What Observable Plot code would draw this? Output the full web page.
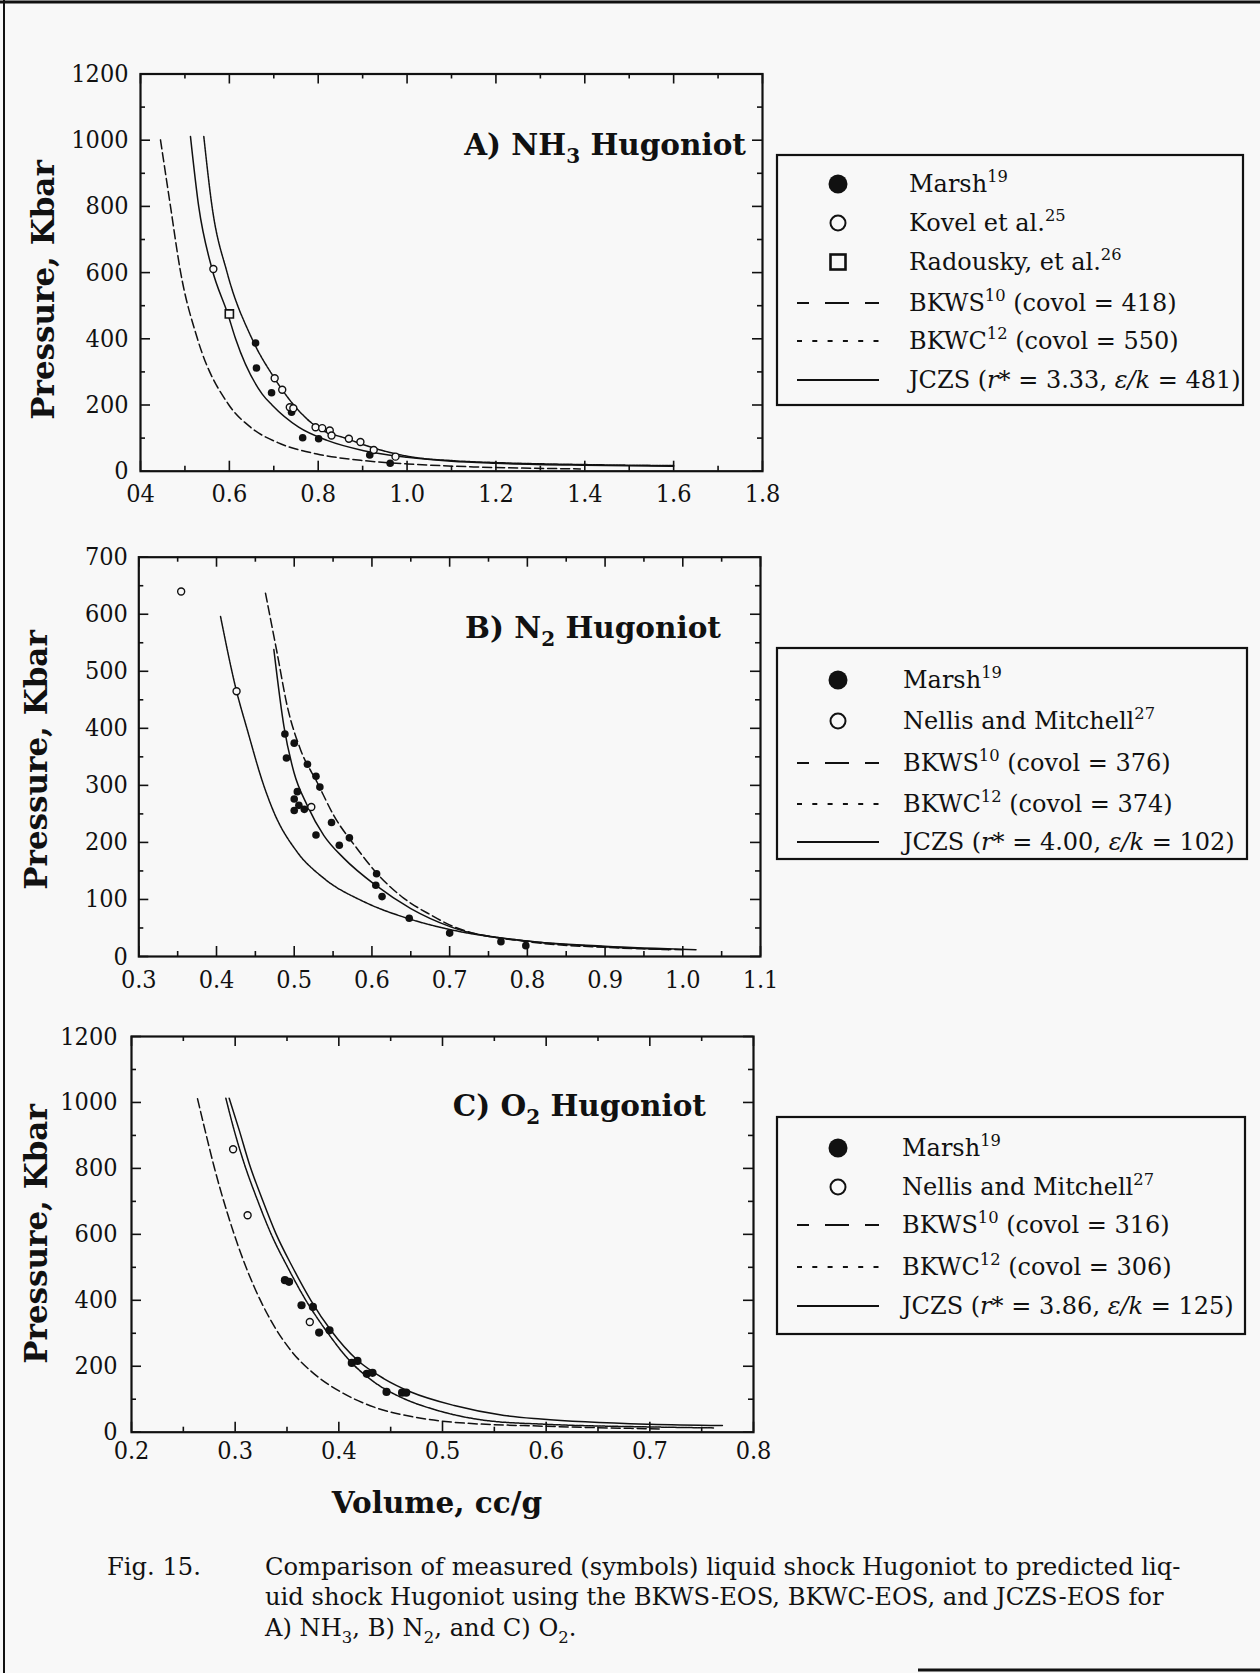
<!DOCTYPE html>
<html>
<head>
<meta charset="utf-8">
<script src="https://cdn.jsdelivr.net/npm/d3@7"></script>
<script src="https://cdn.jsdelivr.net/npm/@observablehq/plot@0.6"></script>
<style>
html, body { margin: 0; padding: 0; background: #f8f8f8; }
#page { position: relative; width: 1260px; height: 1673px; background: #f8f8f8; overflow: hidden; font-family: "DejaVu Serif", serif; color: #111; }
.panel { position: absolute; left: 0; }
#overlay { position: absolute; left: 0; top: 0; }
</style>
</head>
<body>
<div id="page"></div>
<script>
// ---------- Panel A: NH3 ----------
const nh3Marsh = [[0.659,387],[0.661,312],[0.695,237],[0.740,178],[0.765,101],[0.801,98],[0.916,49],[0.962,24]];
const nh3Kovel = [[0.564,611],[0.702,281],[0.719,246],[0.736,193],[0.744,190],[0.794,133],[0.809,130],[0.826,123],[0.830,108],[0.869,98],[0.895,88],[0.925,64],[0.974,44]];
const nh3Radousky = [[0.600,475]];
const nh3BKWS = [[0.445,1001],[0.4675,800],[0.490,603],[0.5275,403],[0.599,200],[0.6475,133],[0.715,83],[0.7975,52],[0.9025,32],[1.0,22],[1.15,13],[1.39,7]];
const nh3BKWC = [[0.5425,1011],[0.561,800],[0.595,600],[0.651,400],[0.700,284],[0.745,200],[0.7975,133],[0.865,98],[0.9325,67],[1.015,42],[1.1,32],[1.2,26],[1.4,20],[1.6,17]];
const nh3JCZS = [[0.5125,1011],[0.531,800],[0.561,611],[0.5965,475],[0.614,400],[0.674,233],[0.696,200],[0.756,133],[0.820,93],[0.9025,62],[1.0,42],[1.1,30],[1.2,24],[1.4,18],[1.6,15]];
const nh3XTicks = [0.4,0.6,0.8,1.0,1.2,1.4,1.6,1.8];
const nh3XLabels = ["04","0.6","0.8","1.0","1.2","1.4","1.6","1.8"];
const nh3XMinor = [0.5,0.7,0.9,1.1,1.3,1.5,1.7];
const nh3YTicks = [0,200,400,600,800,1000,1200];
const nh3YLabels = ["0","200","400","600","800","1000","1200"];
const nh3YMinor = [100,300,500,700,900,1100];
const nh3Legend = ["Marsh|19", "Kovel et al.|25", "Radousky, et al.|26", "BKWS|10| (covol = 418)", "BKWC|12| (covol = 550)", "JCZS  (|r*| = 3.33, |ε/k| = 481)"];

// ---------- Panel B: N2 ----------
const n2Marsh = [[0.488,390],[0.500,374],[0.490,348],[0.517,337],[0.528,316],[0.533,297],[0.504,289],[0.500,276],[0.506,265],[0.500,256],[0.513,258],[0.548,235],[0.528,213],[0.571,208],[0.558,195],[0.606,145],[0.605,125],[0.613,105],[0.648,67],[0.700,41],[0.766,26],[0.798,19]];
const n2Nellis = [[0.3545,640],[0.4258,465],[0.522,262]];
const n2BKWS = [[0.463,637],[0.478,532],[0.491,439],[0.508,363],[0.5296,305],[0.551,247],[0.581,189],[0.6069,145],[0.6412,102],[0.6755,73],[0.7056,52],[0.8,26],[0.9,16],[1.0,12]];
const n2BKWC = [[0.4052,596],[0.4258,465],[0.4395,398],[0.461,299],[0.4738,253],[0.5039,183],[0.5382,137],[0.5897,96],[0.6455,67],[0.7013,47],[0.8,27],[0.9,17],[0.982,12]];
const n2JCZS = [[0.4738,538],[0.4867,404],[0.4996,323],[0.5167,265],[0.5382,212],[0.564,172],[0.6047,125],[0.650,84],[0.7013,52],[0.8,27],[0.9,18],[1.017,12]];
const n2XTicks = [0.3,0.4,0.5,0.6,0.7,0.8,0.9,1.0,1.1];
const n2XLabels = ["0.3","0.4","0.5","0.6","0.7","0.8","0.9","1.0","1.1"];
const n2XMinor = [0.35,0.45,0.55,0.65,0.75,0.85,0.95,1.05];
const n2YTicks = [0,100,200,300,400,500,600,700];
const n2YLabels = ["0","100","200","300","400","500","600","700"];
const n2YMinor = [50,150,250,350,450,550,650];
const n2Legend = ["Marsh|19", "Nellis and Mitchell|27", "BKWS|10| (covol = 376)", "BKWC|12| (covol = 374)", "JCZS  (|r*| = 4.00, |ε/k| = 102)"];

// ---------- Panel C: O2 ----------
const o2Marsh = [[0.348,461],[0.352,456],[0.364,385],[0.375,380],[0.381,302],[0.391,309],[0.4125,210],[0.418,216],[0.427,177],[0.4325,180],[0.446,122],[0.461,120],[0.465,120]];
const o2Nellis = [[0.298,858],[0.312,658],[0.372,334]];
const o2BKWS = [[0.2637,1011],[0.2717,906],[0.2797,805],[0.2926,663],[0.3055,542],[0.3183,441],[0.3344,339],[0.3537,248],[0.3762,177],[0.4019,122],[0.4341,76],[0.4727,46],[0.5113,30],[0.6,18],[0.71,10]];
const o2BKWC = [[0.291,1013],[0.299,916],[0.3087,815],[0.3215,704],[0.3344,603],[0.3505,501],[0.3682,400],[0.3875,309],[0.4116,213],[0.4341,152],[0.4598,106],[0.4952,66],[0.5434,35],[0.6,24],[0.7,16],[0.762,13]];
const o2JCZS = [[0.2942,1013],[0.3039,916],[0.3135,815],[0.3264,704],[0.3392,603],[0.3553,501],[0.373,400],[0.3923,309],[0.418,218],[0.4437,162],[0.4695,122],[0.5113,81],[0.5595,51],[0.5949,40],[0.7,24],[0.77,20]];
const o2XTicks = [0.2,0.3,0.4,0.5,0.6,0.7,0.8];
const o2XLabels = ["0.2","0.3","0.4","0.5","0.6","0.7","0.8"];
const o2XMinor = [0.25,0.35,0.45,0.55,0.65,0.75];
const o2YTicks = [0,200,400,600,800,1000,1200];
const o2YLabels = ["0","200","400","600","800","1000","1200"];
const o2YMinor = [100,300,500,700,900,1100];
const o2Legend = ["Marsh|19", "Nellis and Mitchell|27", "BKWS|10| (covol = 316)", "BKWC|12| (covol = 306)", "JCZS  (|r*| = 3.86, |ε/k| = 125)"];

const captionLines = [
  "Comparison of measured (symbols) liquid shock Hugoniot to predicted liq-",
  "uid shock Hugoniot using the BKWS-EOS, BKWC-EOS, and JCZS-EOS for"
];

// ---------- drawing ----------
const INK = "#111";
const DASH_BKWS = "9,4";
const DASH_BKWC = "2.5,0.8";

function makePanel(cfg) {
  const ph = cfg.height - cfg.mt - cfg.mb;
  const pw = cfg.width - cfg.ml - cfg.mr;
  const xl = new Map(cfg.xTicks.map((d, i) => [d, cfg.xLabels[i]]));
  const yl = new Map(cfg.yTicks.map((d, i) => [d, cfg.yLabels[i]]));
  const tk = {stroke: INK, strokeWidth: 1.6};
  const marks = [
    Plot.ruleX(cfg.xTicks, {x: d => d, insetTop: ph - 10, ...tk}),
    Plot.ruleX(cfg.xTicks, {x: d => d, insetBottom: ph - 10, ...tk}),
    Plot.ruleX(cfg.xMinor, {x: d => d, insetTop: ph - 5, ...tk}),
    Plot.ruleX(cfg.xMinor, {x: d => d, insetBottom: ph - 5, ...tk}),
    Plot.ruleY(cfg.yTicks, {y: d => d, insetRight: pw - 10, ...tk}),
    Plot.ruleY(cfg.yTicks, {y: d => d, insetLeft: pw - 10, ...tk}),
    Plot.ruleY(cfg.yMinor, {y: d => d, insetRight: pw - 5, ...tk}),
    Plot.ruleY(cfg.yMinor, {y: d => d, insetLeft: pw - 5, ...tk}),
    Plot.frame({stroke: INK, strokeWidth: 2.2}),
    Plot.axisX({ticks: cfg.xTicks, anchor: "bottom", tickSize: 0, tickPadding: cfg.xPad, tickFormat: d => xl.get(d), label: null, fill: INK}),
    Plot.axisY({ticks: cfg.yTicks, anchor: "left", tickSize: 0, tickPadding: cfg.yPad, tickFormat: d => yl.get(d), label: null, fill: INK}),
  ];
  for (const c of cfg.curves) {
    marks.push(Plot.line(c.data, {x: d => d[0], y: d => d[1], curve: "monotone-x", stroke: INK, strokeWidth: 1.5, strokeDasharray: c.dash || null}));
  }
  for (const p of cfg.points) {
    if (p.kind === "filled") marks.push(Plot.dot(p.data, {x: d => d[0], y: d => d[1], r: p.r || 3.8, fill: INK, stroke: "none"}));
    if (p.kind === "open") marks.push(Plot.dot(p.data, {x: d => d[0], y: d => d[1], r: p.r || 3.5, fill: "#f8f8f8", stroke: INK, strokeWidth: 1.4}));
    if (p.kind === "square") marks.push(Plot.dot(p.data, {x: d => d[0], y: d => d[1], symbol: "square", r: 4.6, fill: "#f8f8f8", stroke: INK, strokeWidth: 1.6}));
  }
  const svg = Plot.plot({
    width: cfg.width, height: cfg.height,
    marginTop: cfg.mt, marginBottom: cfg.mb, marginLeft: cfg.ml, marginRight: cfg.mr,
    x: {domain: cfg.xDomain},
    y: {domain: cfg.yDomain},
    style: {background: "transparent", fontFamily: "'DejaVu Serif Condensed', 'DejaVu Serif', serif", fontStretch: "condensed", fontSize: "25px", color: INK, overflow: "visible"},
    marks
  });
  const holder = document.createElement("div");
  holder.className = "panel";
  holder.style.top = cfg.top + "px";
  holder.appendChild(svg);
  document.getElementById("page").appendChild(holder);
}

makePanel({
  top: 0, width: 800, height: 520, mt: 73.5, mb: 49.3, ml: 140, mr: 38,
  xDomain: [0.4, 1.8], yDomain: [0, 1200],
  xTicks: nh3XTicks, xLabels: nh3XLabels, xMinor: nh3XMinor,
  yTicks: nh3YTicks, yLabels: nh3YLabels, yMinor: nh3YMinor,
  xPad: 13, yPad: 12,
  curves: [{data: nh3BKWS, dash: DASH_BKWS}, {data: nh3BKWC, dash: DASH_BKWC}, {data: nh3JCZS}],
  points: [{kind: "filled", data: nh3Marsh}, {kind: "open", data: nh3Kovel}, {kind: "square", data: nh3Radousky}]
});
makePanel({
  top: 500, width: 800, height: 520, mt: 56.7, mb: 64, ml: 138.3, mr: 40,
  xDomain: [0.3, 1.1], yDomain: [0, 700],
  xTicks: n2XTicks, xLabels: n2XLabels, xMinor: n2XMinor,
  yTicks: n2YTicks, yLabels: n2YLabels, yMinor: n2YMinor,
  xPad: 14, yPad: 11,
  curves: [{data: n2BKWS, dash: DASH_BKWS}, {data: n2BKWC, dash: DASH_BKWC}, {data: n2JCZS}],
  points: [{kind: "filled", data: n2Marsh}, {kind: "open", data: n2Nellis}]
});
makePanel({
  top: 1000, width: 800, height: 500, mt: 36, mb: 68.3, ml: 131, mr: 47,
  xDomain: [0.2, 0.8], yDomain: [0, 1200],
  xTicks: o2XTicks, xLabels: o2XLabels, xMinor: o2XMinor,
  yTicks: o2YTicks, yLabels: o2YLabels, yMinor: o2YMinor,
  xPad: 9, yPad: 14,
  curves: [{data: o2BKWS, dash: DASH_BKWS}, {data: o2BKWC, dash: DASH_BKWC}, {data: o2JCZS}],
  points: [{kind: "filled", data: o2Marsh, r: 4.1}, {kind: "open", data: o2Nellis}]
});

// ---------- overlay: labels, titles, legends, caption ----------
const ov = d3.select("#page").append("svg").attr("id", "overlay")
  .attr("width", 1260).attr("height", 1673)
  .style("font-family", "'DejaVu Serif', serif").attr("fill", INK);

// page border
ov.append("line").attr("x1", 0).attr("x2", 1260).attr("y1", 2).attr("y2", 2).attr("stroke", INK).attr("stroke-width", 3);
ov.append("line").attr("x1", 4).attr("x2", 4).attr("y1", 0).attr("y2", 1673).attr("stroke", INK).attr("stroke-width", 2);
ov.append("line").attr("x1", 918).attr("x2", 1260).attr("y1", 1670).attr("y2", 1670).attr("stroke", INK).attr("stroke-width", 3);

// rich text helper: parts = [[text, kind]] kind: n | sub | sup | it
function rich(g, x, y, parts, o) {
  const t = g.append("text").attr("x", x).attr("y", y)
    .attr("font-size", o.size).attr("font-weight", o.weight || "normal")
    .attr("text-anchor", o.anchor || "start");
  let shift = 0;
  for (const [s, kind] of parts) {
    const target = kind === "sub" ? o.size * 0.28 : kind === "sup" ? -o.size * 0.42 : 0;
    const ts = t.append("tspan").attr("dy", target - shift).text(s);
    if (kind === "sub" || kind === "sup") ts.attr("font-size", o.size * 0.68);
    if (kind === "it") ts.attr("font-style", "italic");
    shift = target;
  }
  return t;
}

// y-axis labels
[[54, 290], [47, 760], [47, 1234]].forEach(([x, y]) => {
  ov.append("text").attr("transform", `translate(${x},${y}) rotate(-90)`)
    .attr("text-anchor", "middle").attr("font-size", 31).attr("font-weight", "bold")
    .text("Pressure, Kbar");
});

// panel titles
rich(ov, 746, 155, [["A) NH", "n"], ["3", "sub"], [" Hugoniot", "n"]], {size: 29.5, weight: "bold", anchor: "end"});
rich(ov, 721, 638, [["B) N", "n"], ["2", "sub"], [" Hugoniot", "n"]], {size: 29.5, weight: "bold", anchor: "end"});
rich(ov, 706, 1116, [["C) O", "n"], ["2", "sub"], [" Hugoniot", "n"]], {size: 29.5, weight: "bold", anchor: "end"});

// x label
ov.append("text").attr("x", 437).attr("y", 1513).attr("text-anchor", "middle")
  .attr("font-size", 29.5).attr("font-weight", "bold").text("Volume, cc/g");

// legends
function legendParts(s) {
  const bits = s.split("|");
  if (bits[0].startsWith("JCZS")) {
    return [[bits[0], "n"], [bits[1], "it"], [bits[2], "n"], [bits[3], "it"], [bits[4], "n"]];
  }
  const out = [[bits[0], "n"], [bits[1], "sup"]];
  if (bits[2]) out.push([bits[2], "n"]);
  return out;
}
function legend(box, rows, labels, kinds) {
  ov.append("rect").attr("x", box[0]).attr("y", box[1]).attr("width", box[2] - box[0]).attr("height", box[3] - box[1])
    .attr("fill", "none").attr("stroke", INK).attr("stroke-width", 2.2);
  const sx = 838, lx1 = 797, lx2 = 879, tx = box[4];
  labels.forEach((lab, i) => {
    const by = rows[i];
    const k = kinds[i];
    const cy = by - 8;
    if (k === "filled") ov.append("circle").attr("cx", sx).attr("cy", cy).attr("r", 9.5).attr("fill", INK);
    if (k === "open") ov.append("circle").attr("cx", sx).attr("cy", cy).attr("r", 7.5).attr("fill", "none").attr("stroke", INK).attr("stroke-width", 2);
    if (k === "square") ov.append("rect").attr("x", sx - 7.5).attr("y", cy - 7.5).attr("width", 15).attr("height", 15).attr("fill", "none").attr("stroke", INK).attr("stroke-width", 2.6);
    if (k === "bkws") ov.append("line").attr("x1", lx1).attr("x2", lx2).attr("y1", cy).attr("y2", cy).attr("stroke", INK).attr("stroke-width", 2).attr("stroke-dasharray", "12,16,24,16,14");
    if (k === "bkwc") ov.append("line").attr("x1", lx1).attr("x2", lx2).attr("y1", cy).attr("y2", cy).attr("stroke", INK).attr("stroke-width", 2).attr("stroke-dasharray", "5,10.3");
    if (k === "jczs") ov.append("line").attr("x1", lx1).attr("x2", lx2).attr("y1", cy).attr("y2", cy).attr("stroke", INK).attr("stroke-width", 1.8);
    rich(ov, tx, by, legendParts(lab), {size: 24});
  });
}
legend([777, 155, 1243, 405, 909], [192, 231, 270, 311, 349, 388], nh3Legend, ["filled", "open", "square", "bkws", "bkwc", "jczs"]);
legend([777, 648, 1247, 859, 903], [688, 729, 771, 812, 850], n2Legend, ["filled", "open", "bkws", "bkwc", "jczs"]);
legend([777, 1117, 1245, 1334, 902], [1156, 1195, 1233, 1275, 1314], o2Legend, ["filled", "open", "bkws", "bkwc", "jczs"]);

// caption
const CAP = 24.2;
ov.append("text").attr("x", 107).attr("y", 1575).attr("font-size", CAP).text("Fig. 15.");
ov.append("text").attr("x", 265).attr("y", 1575).attr("font-size", CAP).text(captionLines[0]);
ov.append("text").attr("x", 265).attr("y", 1605).attr("font-size", CAP).text(captionLines[1]);
rich(ov, 265, 1636, [["A) NH", "n"], ["3", "sub"], [", B) N", "n"], ["2", "sub"], [", and C) O", "n"], ["2", "sub"], [".", "n"]], {size: CAP});
</script>
</body>
</html>
